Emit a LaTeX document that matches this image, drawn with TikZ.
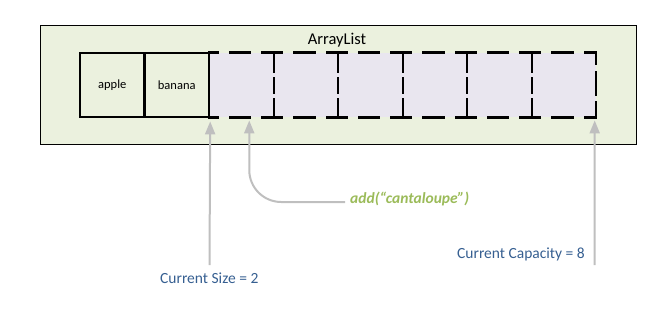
\documentclass[tikz,border=0pt]{standalone}
\usepackage{fontspec}
\setmainfont{Carlito}
\usetikzlibrary{arrows.meta}
\definecolor{boxgreen}{HTML}{EBF1DE}
\definecolor{emptycell}{HTML}{E9E6EF}
\definecolor{arrowgray}{HTML}{BFBFBF}
\definecolor{labelblue}{HTML}{365F91}
\definecolor{addgreen}{HTML}{9BBB59}
\tikzset{
  outerbox/.style={draw=black, line width=0.9bp, fill=boxgreen},
  fullcell/.style={draw=black, line width=2.4bp, fill=boxgreen, minimum width=64.5bp, minimum height=64.4bp, inner sep=0pt, font=\fontsize{12.5bp}{14bp}\selectfont},
  emptycellbox/.style={fill=emptycell, minimum width=64.5bp, minimum height=64.4bp, inner sep=0pt},
  dashedge/.style={draw=black, line width=2.4bp, line cap=rect, dash pattern=on 8.5bp off 12.5bp on 20bp off 12.5bp on 20bp},
  innervert/.style={draw=black, line width=2.4bp, line cap=rect, dash pattern=on 19.5bp off 6bp on 15bp off 6bp on 30bp},
  grayarrow/.style={draw=arrowgray, line width=2bp, -{Triangle[width=10bp,length=13bp]}},
  bluelabel/.style={text=labelblue, font=\fontsize{15.5bp}{18bp}\selectfont, inner sep=0pt},
  addlabel/.style={text=addgreen, font=\fontsize{15.5bp}{18bp}\selectfont\bfseries\itshape, inner sep=0pt}
}
\begin{document}
\begin{tikzpicture}[x=1bp, y=-1bp]
\useasboundingbox (0,0) rectangle (670,312);
\node[outerbox, minimum width=595.5bp, minimum height=118.5bp, inner sep=0pt] (outer) at (338.25,84.75) {};
\node[font=\fontsize{16.5bp}{19bp}\selectfont, inner sep=0pt] (title) at (337,40) {ArrayList};
% empty cells
\foreach \i in {3,...,8} {
  \node[emptycellbox] (c\i) at ({80+64.5*(\i-0.5)},85) {};
}
\foreach \i in {3,...,8} {
  \draw[dashedge] (c\i.north west) -- (c\i.north east);
  \draw[dashedge] (c\i.south west) -- (c\i.south east);
}
\foreach \i in {3,...,7} {
  \draw[innervert] (c\i.north east) -- (c\i.south east);
}
\draw[line width=2.4bp, line cap=rect, dash pattern=on 11bp off 9bp on 22bp off 8bp on 20bp] (c8.north east) -- (c8.south east);
\node[fullcell] (c1) at ({80+64.5*0.5},85) {apple};
\node[fullcell] (c2) at ({80+64.5*1.5},85) {banana};

\coordinate (sizeEnd) at (209.5,265);
\coordinate (capEnd) at (594.5,265);
\coordinate (addEnd) at (345,202);

\draw[grayarrow] (sizeEnd) -- ([yshift=-3bp]c2.south east);
\draw[grayarrow] (capEnd) -- ([xshift=-1.5bp,yshift=-3bp]c8.south east);
\draw[grayarrow, rounded corners=32bp] (addEnd) -| ([xshift=8bp,yshift=-3bp]c3.south);

\node[addlabel, anchor=west] (addText) at (350,199) {add(“cantaloupe”)};
\node[bluelabel, anchor=west] (sizeText) at (160,278) {Current Size = 2};
\node[bluelabel, anchor=east] (capText) at (585,254) {Current Capacity = 8};
\end{tikzpicture}
\end{document}
